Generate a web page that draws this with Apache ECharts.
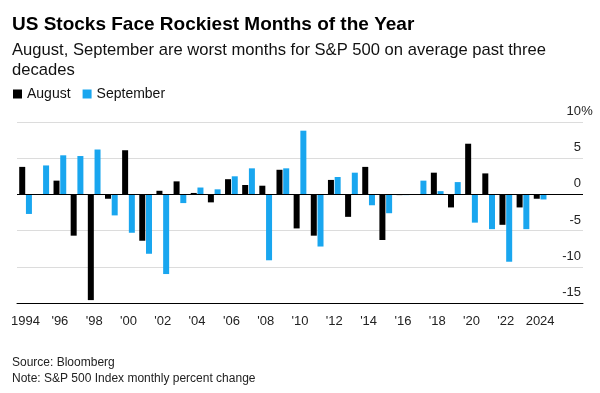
<!DOCTYPE html>
<html>
<head>
<meta charset="utf-8">
<script src="https://cdn.jsdelivr.net/npm/echarts@6/dist/echarts.min.js"></script>
<style>
  html, body { margin: 0; padding: 0; background: #fff; }
  #chart { width: 600px; height: 393px; }
</style>
</head>
<body>
<div id="chart"></div>
<script>
// Years shown on the category axis (2025-2026 are empty padding on the right)
const years = [1994,1995,1996,1997,1998,1999,2000,2001,2002,2003,2004,2005,2006,2007,2008,2009,
  2010,2011,2012,2013,2014,2015,2016,2017,2018,2019,2020,2021,2022,2023,2024,2025,2026];
// August monthly % change, S&P 500
const august = [3.8,-0.03,1.9,-5.7,-14.6,-0.6,6.1,-6.4,0.5,1.8,0.2,-1.1,2.1,1.3,1.2,3.4,
  -4.7,-5.7,2.0,-3.1,3.8,-6.3,-0.1,0.05,3.0,-1.8,7.0,2.9,-4.2,-1.8,-0.6,null,null];
// September monthly % change, S&P 500
const september = [-2.7,4.0,5.4,5.3,6.2,-2.9,-5.3,-8.2,-11.0,-1.2,0.95,0.7,2.5,3.6,-9.1,3.6,
  8.8,-7.2,2.4,3.0,-1.5,-2.6,-0.1,1.9,0.45,1.7,-3.9,-4.8,-9.3,-4.8,-0.7,null,null];
const yTicks = [-15,-10,-5,0,5,10];

const FONT = '"Liberation Sans", Arial, sans-serif';
const BLUE = '#19a6ef';

function yearLabel(y) {
  if (y === 1994 || y === 2024) return String(y);
  return "'" + String(y).slice(2);
}
function showYear(idx) {
  const y = years[idx];
  return y % 2 === 0 && y <= 2024;
}

const chart = echarts.init(document.getElementById('chart'), null, { renderer: 'canvas' });
chart.setOption({
  animation: false,
  backgroundColor: '#fff',
  textStyle: { fontFamily: FONT },
  title: [
    { text: 'US Stocks Face Rockiest Months of the Year', left: 12, top: 15, padding: 0,
      textStyle: { fontFamily: FONT, fontSize: 19, fontWeight: 'bold', color: '#000' } },
    { text: 'August, September are worst months for S&P 500 on average past three\ndecades', left: 12, top: 40, padding: 0,
      textStyle: { fontFamily: FONT, fontSize: 16.6, fontWeight: 'normal', color: '#111', lineHeight: 20 } },
    { text: 'Source: Bloomberg\nNote: S&P 500 Index monthly percent change', left: 12, top: 355, padding: 0,
      textStyle: { fontFamily: FONT, fontSize: 12, fontWeight: 'normal', color: '#222', lineHeight: 16 } }
  ],
  legend: {
    left: 13, top: 87, padding: 0,
    icon: 'rect', itemWidth: 9, itemHeight: 9, itemGap: 12,
    textStyle: { fontFamily: FONT, fontSize: 14, color: '#111' },
    data: ['August', 'September']
  },
  grid: { left: 17, right: 17, top: 122, bottom: 90, containLabel: false },
  xAxis: {
    type: 'category',
    data: years,
    boundaryGap: true,
    axisLine: { onZero: false, lineStyle: { color: '#000', width: 1 } },
    axisTick: { alignWithLabel: true, length: 5, interval: (i) => showYear(i), lineStyle: { color: '#000' } },
    axisLabel: { interval: (i) => showYear(i), formatter: (v) => yearLabel(Number(v)),
      fontFamily: FONT, fontSize: 13, color: '#222', margin: 12 },
    splitLine: { show: false }
  },
  yAxis: {
    type: 'value',
    position: 'right',
    min: -15, max: 10, interval: 5,
    axisLine: { show: false },
    axisTick: { show: false },
    splitLine: { lineStyle: { color: '#dcdcdc', width: 1 } },
    axisLabel: {
      inside: false, margin: 10, align: 'right', verticalAlign: 'bottom',
      formatter: (v) => '{n|' + v + '}{p|' + (v === 10 ? '%' : '\u00a0') + '}',
      rich: {
        n: { fontFamily: FONT, fontSize: 13, color: '#222', padding: [0, 0, 4, 0] },
        p: { fontFamily: FONT, fontSize: 13, color: '#222', width: 12, align: 'left', padding: [0, 0, 4, 0] }
      }
    }
  },
  series: [
    { name: 'August', type: 'bar', data: august, barWidth: 6, barGap: '12%',
      itemStyle: { color: '#000' },
      markLine: { silent: true, symbol: 'none', label: { show: false },
        lineStyle: { color: '#000', width: 1, type: 'solid' }, data: [{ yAxis: 0 }] } },
    { name: 'September', type: 'bar', data: september, barWidth: 6,
      itemStyle: { color: BLUE } }
  ]
});
</script>
</body>
</html>
